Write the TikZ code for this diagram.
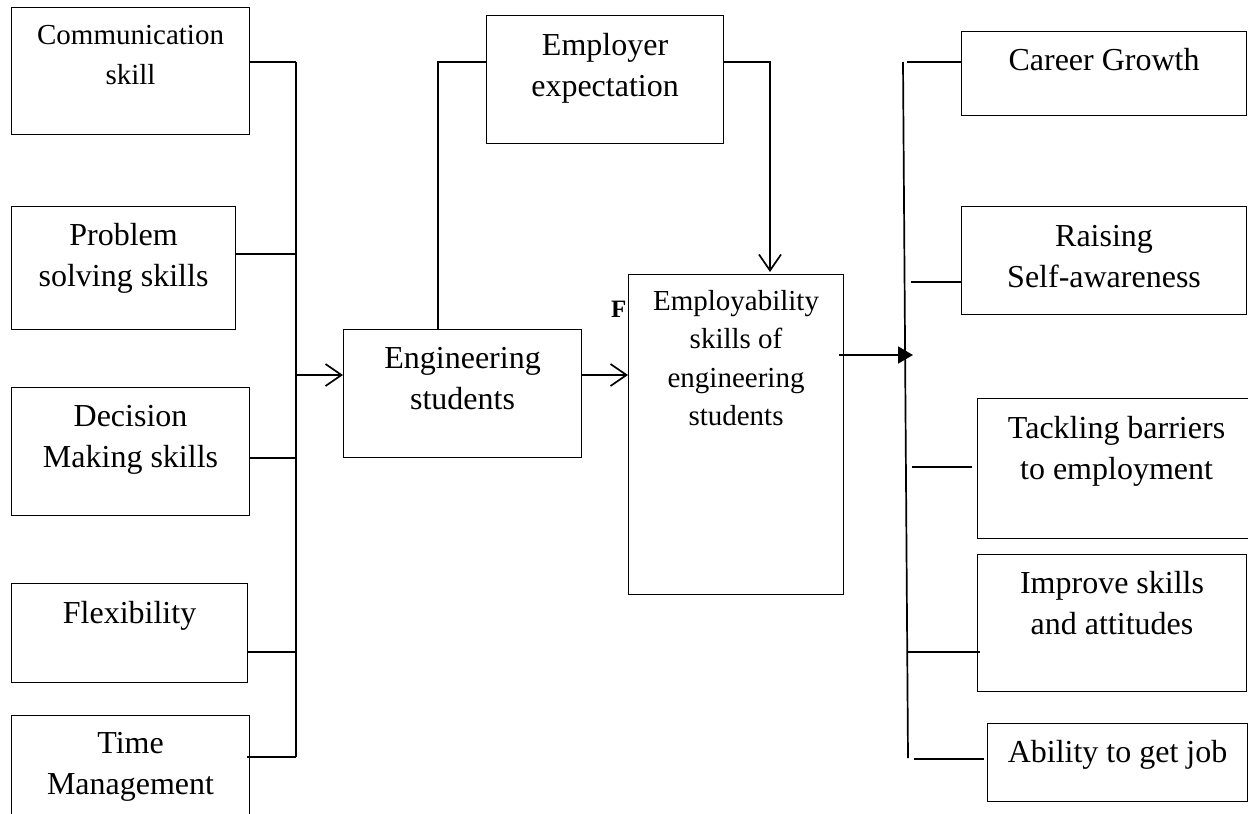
\documentclass[tikz,border=0pt]{standalone}
\usepackage{fontspec}
\setmainfont{Liberation Serif}
\usetikzlibrary{arrows.meta}
\begin{document}
\begin{tikzpicture}[x=1pt,y=-1pt,
  box/.style={draw, line width=1.1pt, fill=white, rectangle, inner sep=0pt, anchor=north west},
  txt/.style={align=center, inner sep=0pt, anchor=north, yshift=-10.3pt, font=\fontsize{32}{41}\selectfont},
  smalltxt/.style={txt, font=\fontsize{29}{40}\selectfont},
  conn/.style={line width=1.7pt},
  openhead/.style={-{Straight Barb[length=16pt,width=22pt]}},
  solidhead/.style={-{Triangle[length=15pt,width=17pt]}}]
\useasboundingbox (0,0) rectangle (1248,814);

% left column
\node[box, minimum width=238pt, minimum height=127pt] (comm) at (11,7) {};
\node[box, minimum width=224pt, minimum height=123pt] (prob) at (11,206) {};
\node[box, minimum width=238pt, minimum height=128pt] (dec)  at (11,387) {};
\node[box, minimum width=236pt, minimum height=99pt]  (flex) at (11,583) {};
\node[box, minimum width=238pt, minimum height=115pt] (time) at (11,715) {};
\node[smalltxt, yshift=1pt] (commT) at (comm.north) {\strut Communication\\skill};
\node[txt] (probT) at (prob.north) {\strut Problem\\solving skills};
\node[txt] (decT)  at (dec.north)  {\strut Decision\\Making skills};
\node[txt, yshift=-1.5pt] (flexT) at (flex.north) {\strut Flexibility};
\node[txt, yshift=0.5pt] (timeT) at (time.north) {\strut Time\\Management};

% middle
\node[box, minimum width=237pt, minimum height=128pt] (empr) at (486,15) {};
\node[txt, yshift=-1pt] (emprT) at (empr.north) {\strut Employer\\expectation};
\node[box, minimum width=238pt, minimum height=128pt] (eng) at (343,329) {};
\node[txt] (engT) at (eng.north) {\strut Engineering\\students};
\node[anchor=base west, inner sep=0pt, font=\fontsize{25}{30}\selectfont\bfseries] (fig) at (611,317) {F};
\node[box, minimum width=215pt, minimum height=320pt] (emp) at (628,274) {};
\node[smalltxt, yshift=1pt, font=\fontsize{29}{38.5}\selectfont] (empT) at (emp.north) {\strut Employability\\skills of\\engineering\\students};

% right column
\node[box, minimum width=285pt, minimum height=84pt]  (cg) at (961,31) {};
\node[box, minimum width=285pt, minimum height=108pt] (rs) at (961,206) {};
\node[box, minimum width=278pt, minimum height=140pt] (tb) at (977,398) {};
\node[box, minimum width=269pt, minimum height=137pt] (im) at (977,554) {};
\node[box, minimum width=260pt, minimum height=78pt]  (ab) at (987,723) {};
\node[txt] (cgT) at (cg.north) {\strut Career Growth};
\node[txt, yshift=-1pt] (rsT) at (rs.north) {\strut Raising\\Self-awareness};
\node[txt, yshift=-1pt] (tbT) at (tb.north) {\strut Tackling barriers\\to employment};
\node[txt] (imT) at (im.north) {\strut Improve skills\\and attitudes};
\node[txt] (abT) at (ab.north) {\strut Ability to get job};

% left bus
\coordinate (c1) at (296,62);
\coordinate (c2) at (296,254);
\coordinate (c0) at (296,375);
\coordinate (c3) at (296,458);
\coordinate (c4) at (296,652);
\coordinate (c5) at (296,757);
\draw[conn] (c1) -- (c5);
\draw[conn] (comm.east |- c1) -- (c1);
\draw[conn] (prob.east |- c2) -- (c2);
\draw[conn] (dec.east |- c3) -- (c3);
\draw[conn] (flex.east |- c4) -- (c4);
\draw[conn] ([xshift=-3pt]time.east |- c5) -- (c5);
\draw[conn, openhead] (c0) -- (eng.west |- c0);

% middle links
\draw[conn, openhead] (eng.east |- c0) -- (emp.west |- c0);
\coordinate (e1) at (438,62);
\coordinate (e2) at (770,62);
\draw[conn] (e1 |- eng.north) -- (e1) -- (e1 -| empr.west);
\draw[conn, openhead] (empr.east |- e2) -- (e2) -- ([yshift=2pt]e2 |- emp.north);

% right bus
\coordinate (r1) at (903,62);
\coordinate (r2) at (908,758);
\coordinate (a) at (913,355);
\draw[conn] (r1) -- (r2);
\draw[conn, solidhead] ([xshift=-5pt]emp.east |- a) -- (a);
\coordinate (q1) at (907,62);
\coordinate (q2) at (911,282);
\coordinate (q3) at (912,467);
\coordinate (q4) at (908,652);
\coordinate (q5) at (914,759);
\draw[conn] (q1) -- (q1 -| cg.west);
\draw[conn] (q2) -- (q2 -| rs.west);
\draw[conn] (q3) -- ([xshift=-5pt]q3 -| tb.west);
\draw[conn] (q4) -- ([xshift=3pt]q4 -| im.west);
\draw[conn] (q5) -- ([xshift=-3pt]q5 -| ab.west);
\end{tikzpicture}
\end{document}
